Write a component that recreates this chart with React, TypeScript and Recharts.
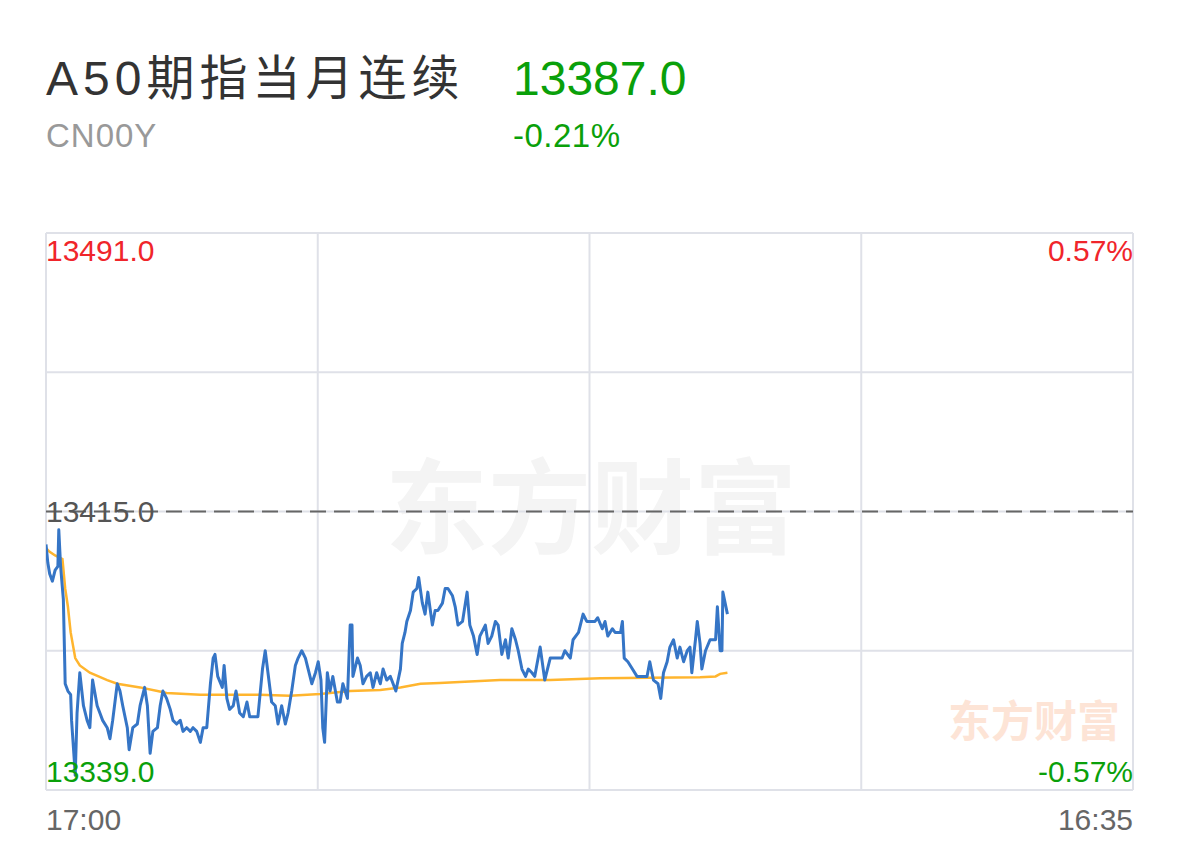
import React from 'react';
import { LineChart, Line, XAxis, YAxis, CartesianGrid, ReferenceLine } from 'recharts';

// quote header
const NAME = 'A50期指当月连续';
const CODE = 'CN00Y';
const LAST_PRICE = 13387.0;

// price scale (prev close in the middle, +-limit at the edges)
const PREV_CLOSE = 13415.0;
const LIMIT_HIGH = 13491.0;
const LIMIT_LOW = 13339.0;

// session: 17:00 .. 16:35, in minutes from the open
const SESSION_MINUTES = 1190;
const timeLabels = ['17:00', '16:35'];

// last price, minute by minute
const priceMinutes = [
  0, 2, 4, 7, 10, 13, 14, 16, 19, 21,
  24, 27, 28, 31, 32, 34, 37, 41, 45, 48,
  51, 56, 59, 62, 67, 70, 73, 78, 81, 84,
  89, 91, 95, 100, 103, 108, 111, 114, 117, 122,
  125, 128, 132, 136, 139, 143, 147, 150, 154, 158,
  161, 165, 169, 172, 176, 180, 183, 185, 188, 193,
  195, 198, 201, 205, 208, 212, 216, 220, 223, 229,
  232, 237, 240, 243, 247, 251, 254, 258, 262, 265,
  269, 273, 276, 280, 284, 287, 291, 295, 298, 301,
  303, 305, 308, 311, 314, 319, 322, 325, 330, 333,
  335, 336, 341, 344, 347, 351, 355, 358, 362, 366,
  369, 373, 377, 380, 383, 388, 390, 393, 395, 399,
  402, 406, 408, 412, 415, 418, 423, 426, 429, 434,
  437, 440, 445, 448, 451, 456, 461, 464, 468, 472,
  475, 481, 484, 488, 492, 495, 499, 503, 506, 510,
  514, 517, 521, 525, 528, 532, 535, 541, 546, 552,
  557, 565, 568, 574, 577, 583, 588, 592, 596, 601,
  604, 609, 612, 615, 620, 623, 629, 631, 633, 637,
  642, 647, 653, 658, 661, 665, 670, 673, 676, 680,
  683, 687, 691, 694, 698, 702, 705, 707, 711, 713,
  716, 718, 722, 727, 733, 735, 738, 740, 741, 746,
];
const prices = [
  13406, 13401, 13398, 13396, 13399, 13400, 13410, 13400, 13391, 13368,
  13366, 13365, 13358, 13347, 13343, 13360, 13371, 13362, 13358, 13356,
  13369, 13362, 13360, 13358, 13356, 13353, 13358, 13368, 13366, 13362,
  13356, 13350, 13356, 13357, 13362, 13367, 13362, 13349, 13355, 13356,
  13362, 13366, 13364, 13361, 13358, 13357, 13358, 13355, 13356, 13355,
  13356, 13355, 13352, 13356, 13356, 13368, 13375, 13376, 13370, 13367,
  13373, 13364, 13361, 13362, 13366, 13360, 13359, 13363, 13359, 13359,
  13359, 13372, 13377, 13371, 13363, 13362, 13357, 13362, 13357, 13360,
  13366, 13373, 13375, 13377, 13375, 13372, 13368, 13371, 13374, 13369,
  13356, 13352, 13371, 13366, 13370, 13363, 13363, 13368, 13364, 13384,
  13384, 13370, 13375, 13373, 13368, 13370, 13371, 13367, 13371, 13368,
  13372, 13369, 13370, 13368, 13366, 13372, 13379, 13382, 13385, 13388,
  13393, 13394, 13397, 13390, 13387, 13393, 13384, 13388, 13388, 13390,
  13394, 13394, 13392, 13389, 13384, 13385, 13393, 13384, 13381, 13376,
  13381, 13384, 13379, 13381, 13385, 13384, 13376, 13380, 13375, 13383,
  13380, 13377, 13372, 13370, 13372, 13371, 13370, 13378, 13369, 13375,
  13375, 13375, 13377, 13375, 13380, 13382, 13387, 13385, 13385, 13385,
  13386, 13383, 13385, 13381, 13383, 13382, 13382, 13385, 13375, 13374,
  13372, 13370, 13370, 13370, 13374, 13369, 13368, 13364, 13371, 13374,
  13378, 13380, 13375, 13378, 13374, 13377, 13378, 13371, 13380, 13385,
  13379, 13372, 13377, 13380, 13380, 13389, 13377, 13377, 13393, 13387,
];

// average price line
const avgMinutes = [
  0, 4, 10, 18, 21, 24, 27, 32, 37, 48, 67, 78, 103, 122, 132, 169, 234,
  267, 300, 333, 366, 388, 410, 431, 453, 497, 552, 607, 661, 716, 733, 738, 746,
];
const avgPrices = [
  13405, 13404, 13403, 13402, 13394, 13389, 13382, 13375, 13373, 13371, 13369, 13368, 13367, 13366, 13365.5, 13365, 13365,
  13364.7, 13365.2, 13366, 13366.3, 13367, 13368, 13368.2, 13368.5, 13369, 13369, 13369.5, 13369.6, 13369.8, 13370, 13370.7, 13371,
];

const W = 1179;
const H = 843;
const PLOT = { left: 46, right: 1133, top: 233, bottom: 790 };

const RED = '#f0252b';
const GREEN = '#0aa00a';
const FONT = '"Liberation Sans", Arial, "Noto Sans CJK SC", sans-serif';

const pct = (v: number) => {
  const p = ((v - PREV_CLOSE) / PREV_CLOSE) * 100;
  return `${p > 0 ? '' : p < 0 ? '-' : ''}${Math.abs(p).toFixed(2)}%`;
};

export default function App() {
  const priceData = priceMinutes.map((t, i) => ({ t, v: prices[i] }));
  const avgData = avgMinutes.map((t, i) => ({ t, v: avgPrices[i] }));
  const xTicks = [0, 1, 2, 3, 4].map((k) => (SESSION_MINUTES * k) / 4);
  const yTicks = [0, 1, 2, 3, 4].map((k) => LIMIT_LOW + ((LIMIT_HIGH - LIMIT_LOW) * k) / 4);
  const lastColor = LAST_PRICE >= PREV_CLOSE ? RED : GREEN;

  const abs = (s: React.CSSProperties): React.CSSProperties => ({
    position: 'absolute',
    lineHeight: 1,
    whiteSpace: 'nowrap',
    fontFamily: FONT,
    ...s,
  });

  return (
    <div style={{ position: 'fixed', left: 0, top: 0, width: W, height: H, background: '#fff', overflow: 'hidden' }}>
      {/* header */}
      <div style={abs({ left: 46, top: 55, fontSize: 48, color: '#333', letterSpacing: 5 })}>{NAME}</div>
      <div style={abs({ left: 513, top: 55, fontSize: 48, color: lastColor })}>{LAST_PRICE.toFixed(1)}</div>
      <div style={abs({ left: 46, top: 119, fontSize: 33, color: '#999', letterSpacing: 1 })}>{CODE}</div>
      <div style={abs({ left: 513, top: 119, fontSize: 33, color: lastColor, letterSpacing: 0.5 })}>{pct(LAST_PRICE)}</div>

      {/* watermarks */}
      <div style={abs({ left: 385, top: 450, fontSize: 103, fontWeight: 700, color: '#f4f4f4', fontFamily: '"Noto Sans CJK SC", sans-serif' })}>东方财富</div>
      <div style={abs({ left: 948, top: 697, fontSize: 43, fontWeight: 700, color: '#fde4d6', fontFamily: '"Noto Sans CJK SC", sans-serif' })}>东方财富</div>

      <div style={{ position: 'absolute', left: 0, top: 0 }}>
        <LineChart
          width={W}
          height={H}
          margin={{ top: PLOT.top, left: PLOT.left, right: W - PLOT.right, bottom: H - PLOT.bottom }}
        >
          <CartesianGrid stroke="#dfe1e8" strokeWidth={2} />
          <XAxis type="number" dataKey="t" domain={[0, SESSION_MINUTES]} ticks={xTicks} hide allowDataOverflow />
          <YAxis type="number" domain={[LIMIT_LOW, LIMIT_HIGH]} ticks={yTicks} hide allowDataOverflow />
          <ReferenceLine y={PREV_CLOSE} stroke="#666" strokeWidth={2} strokeDasharray="16 8" />
          <Line
            data={avgData}
            dataKey="v"
            type="linear"
            stroke="#ffb52e"
            strokeWidth={2.5}
            dot={false}
            isAnimationActive={false}
          />
          <Line
            data={priceData}
            dataKey="v"
            type="linear"
            stroke="#3575c6"
            strokeWidth={3}
            strokeLinejoin="round"
            dot={false}
            isAnimationActive={false}
          />
        </LineChart>
      </div>

      {/* price / percent labels inside the plot */}
      <div style={abs({ left: 46, top: 236, fontSize: 30, color: RED })}>{LIMIT_HIGH.toFixed(1)}</div>
      <div style={abs({ right: W - PLOT.right, top: 236, fontSize: 30, color: RED })}>{pct(LIMIT_HIGH)}</div>
      <div style={abs({ left: 46, top: 497, fontSize: 30, color: '#555' })}>{PREV_CLOSE.toFixed(1)}</div>
      <div style={abs({ left: 46, top: 757, fontSize: 30, color: GREEN })}>{LIMIT_LOW.toFixed(1)}</div>
      <div style={abs({ right: W - PLOT.right, top: 757, fontSize: 30, color: GREEN })}>{pct(LIMIT_LOW)}</div>

      {/* time labels */}
      <div style={abs({ left: 46, top: 805, fontSize: 30, color: '#666' })}>{timeLabels[0]}</div>
      <div style={abs({ right: W - PLOT.right, top: 805, fontSize: 30, color: '#666' })}>{timeLabels[1]}</div>
    </div>
  );
}
